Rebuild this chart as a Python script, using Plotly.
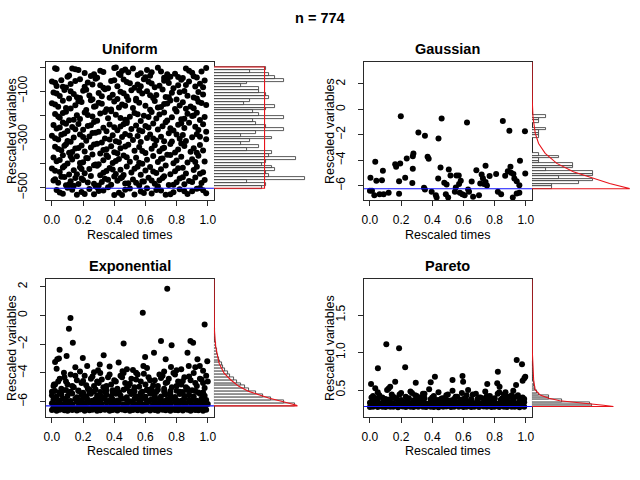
import plotly.graph_objects as go

W, H = 640, 480
FONT = "Liberation Sans, Arial, Helvetica, sans-serif"

TITLE = "n = 774"
PANEL_TITLES = ["Uniform", "Gaussian", "Exponential", "Pareto"]
X_LABEL = "Rescaled times"
Y_LABEL = "Rescaled variables"
X_TICKS = [0.0, 0.2, 0.4, 0.6, 0.8, 1.0]

# ---------------- Uniform ----------------
U_T = [
    0.02,0.10,0.13,0.15,0.17,0.25,0.27,0.29,0.33,0.40, 0.41,0.43,0.45,0.47,0.52,0.55,0.57,0.60,0.63,0.64,
    0.68,0.70,0.74,0.76,0.81,0.84,0.88,0.90,0.93,0.99,
    0.00,0.03,0.06,0.09,0.12,0.18,0.21,0.23,0.28,0.31, 0.36,0.38,0.42,0.46,0.50,0.53,0.55,0.59,0.62,0.66,
    0.69,0.72,0.75,0.78,0.83,0.86,0.88,0.92,0.95,0.98,
    0.01,0.05,0.08,0.11,0.14,0.16,0.20,0.24,0.26,0.30, 0.34,0.37,0.39,0.44,0.48,0.51,0.54,0.58,0.61,0.65,
    0.67,0.71,0.73,0.77,0.80,0.85,0.87,0.91,0.94,0.97,
    0.00,0.04,0.07,0.12,0.15,0.19,0.22,0.25,0.28,0.32, 0.35,0.40,0.43,0.45,0.49,0.52,0.56,0.60,0.63,0.66,
    0.70,0.72,0.76,0.79,0.82,0.84,0.89,0.91,0.96,0.99,
    0.02,0.05,0.09,0.11,0.16,0.18,0.21,0.26,0.29,0.31, 0.36,0.38,0.41,0.47,0.50,0.53,0.57,0.59,0.64,0.67,
    0.69,0.74,0.77,0.80,0.83,0.87,0.90,0.93,0.95,0.98,
    0.01,0.03,0.07,0.10,0.13,0.17,0.20,0.23,0.27,0.30, 0.33,0.37,0.42,0.44,0.48,0.51,0.54,0.58,0.62,0.65,
    0.68,0.71,0.73,0.78,0.81,0.85,0.88,0.92,0.94,0.97,
    0.00,0.04,0.08,0.12,0.14,0.18,0.22,0.24,0.28,0.32, 0.34,0.39,0.41,0.45,0.47,0.52,0.55,0.57,0.61,0.63,
    0.67,0.70,0.75,0.77,0.82,0.84,0.86,0.90,0.93,0.99,
    0.02,0.06,0.09,0.11,0.15,0.19,0.21,0.25,0.29,0.31, 0.35,0.38,0.40,0.44,0.49,0.53,0.56,0.60,0.64,0.66,
    0.69,0.72,0.76,0.79,0.81,0.85,0.89,0.91,0.95,0.97,
    0.01,0.03,0.07,0.10,0.13,0.16,0.20,0.23,0.26,0.30, 0.33,0.36,0.39,0.43,0.46,0.50,0.54,0.58,0.61,0.65,
    0.68,0.71,0.74,0.78,0.80,0.83,0.87,0.90,0.94,0.98,
    0.00,0.05,0.08,0.11,0.14,0.18,0.21,0.24,0.27,0.31, 0.35,0.37,0.41,0.44,0.48,0.51,0.53,0.57,0.60,0.63,
    0.67,0.70,0.73,0.76,0.79,0.84,0.86,0.91,0.93,0.97,
    0.02,0.04,0.06,0.09,0.12,0.15,0.17,0.20,0.25,0.28, 0.32,0.34,0.38,0.42,0.45,0.49,0.52,0.56,0.59,0.62,
    0.66,0.69,0.72,0.75,0.80,0.82,0.85,0.88,0.92,0.96,
    0.03,0.07,0.10,0.16,0.19,0.24,0.27,0.30,0.36,0.40, 0.43,0.47,0.53,0.57,0.61,0.64,0.70,0.73,0.78,0.82,
    0.87,0.90,0.95,0.99,
] + [
    0.03,0.11,0.21,0.31,0.44,0.49,0.61,0.72,0.79,0.86,0.91,0.96,
    0.02,0.07,0.15,0.26,0.33,0.40,0.48,0.57,0.64,0.74,0.81,0.97,
    0.03,0.12,0.18,0.22,0.32,0.42,0.46,0.56,0.63,0.75,0.82,0.93,
    0.02,0.09,0.17,0.27,0.30,0.38,0.47,0.54,0.68,0.74,0.86,0.94,
    0.04,0.07,0.14,0.23,0.34,0.44,0.48,0.55,0.62,0.72,0.85,0.91,
    0.05,0.09,0.15,0.25,0.35,0.40,0.46,0.56,0.60,0.76,0.83,0.99,
    0.02,0.06,0.10,0.20,0.26,0.37,0.43,0.50,0.65,0.72,0.80,0.95,
    0.04,0.08,0.13,0.17,0.27,0.33,0.42,0.47,0.58,0.71,0.83,0.93,
    0.05,0.12,0.18,0.22,0.28,0.35,0.41,0.48,0.56,0.70,0.76,0.92,
    0.02,0.07,0.16,0.19,0.29,0.33,0.39,0.46,0.55,0.65,0.81,0.95,
    0.01,0.08,0.11,0.19,0.23,0.30,0.36,0.40,0.47,0.58,0.71,0.78,
    0.14,0.27,0.44,0.54,0.64,0.68,0.84,0.90,0.98,0.29,
    0.05,0.13,0.21,0.33,0.45,0.50,0.59,0.67,0.76,0.85,0.93,0.97,
]
U_V = [
    -5,-40,-6,-9,-12,-37,-30,-44,-20,-4, -2,-28,-16,-10,-6,-33,-26,-42,-36,-21,
    -3,-18,-30,-40,-41,-45,-15,-24,-43,-4,
    -60,-78,-55,-85,-70,-50,-82,-64,-48,-75, -88,-58,-80,-52,-67,-86,-72,-50,-61,-84,
    -77,-57,-66,-88,-53,-74,-60,-81,-69,-56,
    -105,-120,-95,-130,-112,-125,-98,-118,-133,-108, -92,-127,-115,-102,-122,-96,-131,-110,-100,-128,
    -116,-93,-124,-106,-134,-99,-119,-126,-103,-114,
    -150,-165,-140,-172,-158,-145,-178,-138,-162,-152, -175,-143,-168,-155,-137,-170,-148,-160,-177,-141,
    -166,-153,-139,-174,-159,-146,-163,-171,-149,-157,
    -195,-210,-185,-220,-200,-215,-188,-205,-223,-192, -212,-183,-198,-218,-206,-190,-224,-202,-186,-213,
    -197,-221,-208,-184,-216,-194,-203,-189,-219,-207,
    -240,-255,-230,-265,-248,-236,-260,-244,-228,-268, -252,-238,-262,-246,-232,-257,-242,-266,-250,-234,
    -259,-245,-229,-263,-239,-253,-231,-247,-261,-237,
    -285,-300,-275,-310,-292,-280,-305,-288,-272,-313, -296,-283,-308,-290,-277,-302,-286,-311,-294,-279,
    -304,-289,-274,-309,-297,-282,-306,-291,-278,-299,
    -330,-345,-320,-355,-338,-325,-350,-333,-318,-358, -341,-328,-353,-336,-322,-347,-331,-356,-339,-324,
    -349,-334,-319,-354,-342,-327,-351,-337,-323,-346,
    -375,-390,-365,-400,-383,-370,-395,-378,-362,-403, -386,-373,-398,-381,-367,-392,-376,-401,-384,-369,
    -394,-379,-363,-399,-387,-372,-396,-382,-368,-391,
    -420,-435,-410,-445,-428,-415,-440,-423,-407,-448, -431,-418,-443,-426,-412,-437,-421,-446,-429,-414,
    -439,-424,-408,-444,-432,-417,-441,-427,-413,-436,
    -465,-480,-455,-490,-473,-460,-485,-468,-452,-493, -476,-463,-488,-471,-457,-482,-466,-491,-474,-459,
    -484,-469,-453,-489,-477,-462,-486,-472,-458,-481,
    -510,-525,-500,-529,-518,-505,-527,-514,-498,-530, -521,-508,-528,-516,-502,-524,-512,-529,-519,-506,
    -526,-515,-501,-523,
] + [
    -8,-35,-25,-15,-33,-22,-12,-44,-28,-6,-38,-18,
    -65,-82,-58,-72,-86,-55,-62,-79,-68,-52,-75,-84,
    -110,-100,-128,-94,-121,-132,-109,-97,-117,-125,-104,-130,
    -155,-170,-142,-165,-148,-176,-160,-139,-168,-151,-173,-144,
    -205,-190,-218,-199,-186,-211,-224,-196,-207,-188,-214,-201,
    -250,-235,-258,-241,-266,-249,-237,-262,-244,-254,-233,-268,
    -295,-281,-306,-290,-273,-300,-312,-284,-296,-307,-279,-289,
    -340,-326,-352,-335,-321,-344,-357,-329,-348,-338,-317,-355,
    -385,-370,-398,-377,-404,-366,-389,-374,-397,-380,-364,-393,
    -430,-416,-444,-422,-409,-438,-425,-447,-413,-433,-419,-442,
    -470,-456,-487,-462,-478,-491,-467,-454,-483,-474,-460,-488,
    -492,-484,-461,-479,-470,-494,-457,-476,-468,-498,
    -520,-508,-526,-512,-530,-503,-522,-510,-527,-515,-504,-511,
]
U_THRESH = -502
U_BIN_START, U_BIN_WIDTH = -504, 12
U_HIST = [16,17,11,30,18,17,20,19,16,17,27,18,19,11,15,9,12,19,9,14,23,17,14,13,23,15,13,
          17,20,10,12,18,17,15,15,9,11,23,20,18,12,17]
U_DENS_V = [-502, -502, 0, 0]
U_DENS_D = [0, 16.7, 16.7, 0]

# ---------------- Gaussian ----------------
G_T = [
    0.198,0.460,0.623,0.853,0.895,0.995,0.311,0.353,0.440,0.279,
    0.275,0.236,0.370,0.377,0.034,0.162,0.168,0.194,0.963,0.902,
    0.742,0.453,0.275,0.083,0.003,0.041,0.077,0.187,0.226,0.272,
    0.438,0.477,0.492,0.506,0.517,0.555,0.570,0.583,0.572,0.551,
    0.653,0.683,0.717,0.725,0.708,0.732,0.751,0.742,0.768,0.810,
    0.868,0.885,0.906,0.921,0.927,0.942,0.959,0.997,
    0.000,0.013,0.028,0.062,0.088,0.120,0.187,0.347,0.353,0.396,
    0.423,0.428,0.487,0.502,0.545,0.577,0.593,0.608,0.630,0.636,
    0.662,0.700,0.821,0.842,0.917,0.942,0.959,
]
G_V = [
    -0.53,-0.71,-1.03,-0.92,-1.68,-1.71,-1.81,-2.08,-2.29,-3.47,
    -3.68,-3.86,-3.73,-3.89,-4.12,-4.31,-4.52,-4.25,-4.04,-4.52,
    -4.44,-4.57,-4.68,-4.83,-5.38,-5.62,-5.57,-5.65,-5.38,-5.80,
    -5.44,-5.78,-5.91,-4.73,-5.20,-5.20,-5.20,-5.62,-5.88,-6.14,
    -5.67,-4.78,-5.12,-5.41,-5.83,-5.88,-5.99,-5.72,-5.25,-5.09,
    -5.22,-4.86,-4.99,-5.09,-5.44,-5.65,-5.96,-5.04,
    -6.41,-6.41,-6.75,-6.67,-6.67,-6.56,-6.64,-6.17,-6.30,-6.49,
    -6.75,-6.93,-6.67,-6.93,-6.49,-6.56,-6.67,-6.75,-6.30,-6.49,
    -6.88,-6.75,-6.49,-6.67,-6.93,-6.62,-6.56,
]
G_THRESH = -6.25
G_BIN_START, G_BIN_WIDTH = -6.25, 0.2
G_HIST = [3,3,7,9,4,9,9,2,6,6,1,1,4,1,0,0,0,0,0,0,1,1,1,2,0,0,1,1,2]
G_CURVE_V = [-6.25,-6.25,-6.22,-5.83,-5.43,-4.91,-4.25,-3.46,-2.68,-1.89,-0.58,0.73,3.73]
G_CURVE_D = [0,14.4,14.4,11.5,9.07,6.13,3.68,1.96,0.98,0.49,0.15,0.04,0.0]

# ---------------- Exponential ----------------
E_T = [
    # sparse upper points
    0.740,0.583,0.119,0.109,0.980,0.134,0.460,0.700,0.768,0.889,
    0.906,0.049,0.020,0.034,0.045,0.094,0.198,0.332,0.428,0.598,
    0.655,0.730,0.870,0.934,0.997,0.226,0.296,0.307,0.481,0.453,
    0.540,0.587,0.764,0.878,0.949,0.800,0.077,0.013,
    # mid band
    0.01,0.04,0.06,0.08,0.10,0.12,0.14,0.16,0.19,0.21, 0.23,0.25,0.27,0.29,0.31,0.33,0.36,0.38,0.40,0.42,
    0.44,0.47,0.49,0.51,0.53,0.55,0.57,0.60,0.62,0.64, 0.66,0.68,0.71,0.73,0.75,0.77,0.79,0.81,0.83,0.85,
    0.87,0.89,0.91,0.93,0.95,0.97,0.99,0.18,0.46,0.69,
    0.00,0.02,0.05,0.07,0.09,0.11,0.13,0.15,0.17,0.20, 0.22,0.24,0.26,0.28,0.30,0.32,0.34,0.35,0.37,0.39,
    0.41,0.43,0.45,0.48,0.50,0.52,0.54,0.56,0.58,0.59, 0.61,0.63,0.65,0.67,0.70,0.72,0.74,0.76,0.78,0.80,
    0.82,0.84,0.86,0.88,0.90,0.92,0.94,0.96,0.98,1.00, 0.03,0.15,0.27,0.37,0.52,0.61,0.72,0.83,0.92,0.97,
    # dense mass
    0.00,0.03,0.05,0.08,0.10,0.13,0.16,0.18,0.21,0.24,0.26,0.29,0.31,0.34,0.37,0.39,0.42,0.45,0.47,0.50,
    0.52,0.55,0.58,0.60,0.63,0.66,0.68,0.71,0.73,0.76,0.79,0.81,0.84,0.87,0.89,0.92,0.94,0.97,0.99,
    0.01,0.04,0.06,0.09,0.12,0.14,0.17,0.19,0.22,0.25,0.27,0.30,0.33,0.35,0.38,0.40,0.43,0.46,0.48,0.51,
    0.54,0.56,0.59,0.61,0.64,0.67,0.69,0.72,0.75,0.77,0.80,0.82,0.85,0.88,0.90,0.93,0.96,0.98,
    0.00,0.02,0.05,0.08,0.11,0.13,0.16,0.19,0.21,0.24,0.27,0.30,0.32,0.35,0.38,0.41,0.43,0.46,0.49,0.52,
    0.54,0.57,0.60,0.62,0.65,0.68,0.70,0.73,0.76,0.79,0.81,0.84,0.86,0.89,0.92,0.95,0.97,1.00,
    0.01,0.04,0.07,0.09,0.12,0.15,0.18,0.20,0.23,0.26,0.28,0.31,0.34,0.37,0.39,0.42,0.45,0.48,0.50,0.53,
    0.56,0.58,0.61,0.64,0.66,0.69,0.72,0.74,0.77,0.80,0.83,0.85,0.88,0.91,0.93,0.96,0.99,
    0.00,0.03,0.06,0.10,0.13,0.16,0.19,0.22,0.25,0.29,0.32,0.35,0.38,0.41,0.44,0.48,0.51,0.54,0.57,0.60,
    0.63,0.66,0.70,0.73,0.76,0.79,0.82,0.85,0.88,0.91,0.95,0.98,
    0.02,0.05,0.09,0.12,0.17,0.20,0.24,0.27,0.31,0.35,0.39,0.42,0.46,0.50,0.53,0.57,0.61,0.65,0.68,0.72,
    0.76,0.80,0.84,0.87,0.92,0.97,
]
E_V = [
    1.86,0.19,-0.18,-0.92,-0.64,-1.90,-1.96,-1.78,-2.08,-1.78,
    -1.90,-2.38,-3.24,-3.05,-3.00,-2.82,-2.96,-2.77,-3.28,-2.89,
    -2.59,-3.05,-2.59,-3.05,-3.19,-3.51,-3.82,-3.42,-3.75,-3.88,
    -3.98,-3.51,-3.58,-3.51,-3.51,-3.82,-3.98,-4.81,
    -4.9,-4.6,-5.1,-4.3,-4.8,-4.1,-5.0,-4.5,-4.7,-4.2, -5.1,-4.4,-4.9,-4.6,-4.0,-5.0,-4.3,-4.8,-4.5,-5.1,
    -4.2,-4.7,-4.9,-4.4,-5.0,-4.1,-4.6,-4.8,-4.3,-5.1, -4.5,-4.9,-4.2,-4.7,-4.4,-5.0,-4.1,-4.6,-4.8,-4.3,
    -5.1,-4.5,-4.0,-4.9,-4.4,-4.7,-4.2,-3.9,-4.0,-4.1,
    -5.3,-4.8,-4.4,-5.2,-4.6,-5.35,-4.9,-4.2,-5.25,-4.55, -4.85,-5.3,-4.25,-5.15,-4.7,-4.45,-5.3,-4.9,-4.1,-5.2,
    -4.6,-5.35,-4.3,-5.05,-4.75,-5.25,-4.45,-4.95,-5.3,-4.05, -5.15,-4.5,-4.85,-5.3,-4.35,-5.1,-4.65,-5.25,-4.0,-4.9,
    -5.3,-4.55,-5.0,-4.25,-5.2,-4.7,-5.35,-4.45,-5.05,-4.6, -3.7,-3.6,-3.95,-3.55,-3.8,-3.65,-3.9,-3.75,-3.6,-3.85,
    -6.58,-6.62,-6.55,-6.60,-6.63,-6.57,-6.61,-6.54,-6.62,-6.59,-6.56,-6.63,-6.60,-6.55,-6.62,-6.58,-6.61,-6.54,-6.60,-6.63,
    -6.57,-6.59,-6.62,-6.55,-6.61,-6.58,-6.63,-6.56,-6.60,-6.62,-6.57,-6.59,-6.61,-6.55,-6.62,-6.58,-6.60,-6.63,-6.56,
    -6.38,-6.42,-6.33,-6.40,-6.36,-6.44,-6.35,-6.41,-6.37,-6.43,-6.34,-6.39,-6.42,-6.36,-6.40,-6.33,-6.44,-6.38,-6.35,-6.41,
    -6.37,-6.43,-6.34,-6.39,-6.36,-6.42,-6.40,-6.33,-6.38,-6.44,-6.35,-6.41,-6.37,-6.43,-6.36,-6.39,-6.34,-6.42,
    -6.10,-6.18,-6.05,-6.14,-6.08,-6.20,-6.02,-6.16,-6.11,-6.06,-6.19,-6.09,-6.15,-6.03,-6.17,-6.12,-6.07,-6.20,-6.04,-6.13,
    -6.18,-6.08,-6.15,-6.01,-6.19,-6.10,-6.06,-6.16,-6.12,-6.03,-6.18,-6.09,-6.14,-6.05,-6.20,-6.11,-6.07,-6.16,
    -5.85,-5.92,-5.78,-5.88,-5.95,-5.80,-5.90,-5.76,-5.87,-5.93,-5.82,-5.89,-5.77,-5.94,-5.84,-5.91,-5.79,-5.86,-5.96,-5.81,
    -5.88,-5.75,-5.92,-5.83,-5.90,-5.78,-5.95,-5.86,-5.80,-5.89,-5.93,-5.77,-5.87,-5.82,-5.94,-5.79,-5.88,
    -5.55,-5.65,-5.48,-5.60,-5.42,-5.68,-5.52,-5.62,-5.45,-5.58,-5.66,-5.50,-5.63,-5.44,-5.57,-5.69,-5.47,-5.61,-5.53,-5.66,
    -5.43,-5.59,-5.64,-5.49,-5.56,-5.67,-5.46,-5.60,-5.52,-5.63,-5.45,-5.58,
    -5.25,-5.35,-5.18,-5.30,-5.22,-5.38,-5.15,-5.28,-5.33,-5.20,-5.36,-5.24,-5.17,-5.31,-5.27,-5.39,-5.21,-5.34,-5.16,-5.29,
    -5.37,-5.23,-5.32,-5.19,-5.26,-5.35,
]
E_THRESH = -6.29
E_BIN_START, E_BIN_WIDTH = -6.29, 0.2
E_HIST = [82,70,57,49,42,35,31,27,23,20,16,14,11,9,8,6,5,4,3,3,2,2,1.5,1,1,0.7,0.5]
E_CURVE_V = [-6.29,-6.29,-6.25,-6.04,-5.74,-5.28,-4.93,-4.47,-4.0,-3.3,-2.15,-1.0,2.51]
E_CURVE_D = [0,84,83,71.7,55,35,25,16.7,10,5,1.7,0.4,0]

# ---------------- Pareto ----------------
P_T = [
    0.105,0.187,0.051,0.226,0.942,0.976,0.821,0.007,0.034,0.162,
    0.294,0.390,0.417,0.530,0.594,0.598,0.753,0.817,0.832,0.991,
    0.997,0.980,0.938,0.130,
    0.02,0.05,0.08,0.11,0.14,0.17,0.20,0.23,0.26,0.29, 0.32,0.35,0.38,0.41,0.44,0.47,0.50,0.53,0.56,0.59,
    0.62,0.65,0.68,0.71,0.74,0.77,0.80,0.83,0.86,0.89, 0.92,0.95,0.98,0.12,0.63,
    0.01,0.06,0.10,0.15,0.19,0.25,0.30,0.34,0.40,0.45,0.49,0.55,0.60,0.66,0.70,0.75,0.79,0.82,0.85,0.91,
    0.94,0.99,0.27,0.52,0.87,
    0.00,0.02,0.05,0.08,0.10,0.13,0.15,0.18,0.21,0.23,0.26,0.28,0.31,0.34,0.36,0.39,0.41,0.44,0.47,0.49,
    0.52,0.54,0.57,0.60,0.62,0.65,0.67,0.70,0.73,0.75,0.78,0.80,0.83,0.86,0.88,0.91,0.93,0.96,0.99,
    0.01,0.04,0.06,0.09,0.12,0.14,0.17,0.19,0.22,0.25,0.27,0.30,0.32,0.35,0.38,0.40,0.43,0.45,0.48,0.51,
    0.53,0.56,0.58,0.61,0.64,0.66,0.69,0.71,0.74,0.77,0.79,0.82,0.84,0.87,0.90,0.92,0.95,0.98,
    0.00,0.03,0.06,0.09,0.12,0.15,0.18,0.21,0.24,0.27,0.30,0.33,0.36,0.39,0.42,0.45,0.48,0.51,0.54,0.57,
    0.60,0.63,0.66,0.69,0.72,0.75,0.78,0.81,0.84,0.87,0.90,0.93,0.96,0.99,
    0.02,0.05,0.09,0.13,0.16,0.20,0.24,0.28,0.31,0.35,0.39,0.43,0.46,0.50,0.54,0.58,0.61,0.65,0.69,0.73,
    0.76,0.80,0.84,0.88,0.92,0.97,
]
P_V = [
    1.109,1.056,0.789,0.802,0.900,0.842,0.744,0.580,0.522,0.611,
    0.598,0.602,0.678,0.633,0.687,0.611,0.580,0.589,0.544,0.656,
    0.678,0.624,0.567,0.544,
    0.42,0.47,0.40,0.50,0.44,0.39,0.46,0.41,0.48,0.43, 0.40,0.45,0.51,0.42,0.47,0.39,0.44,0.49,0.41,0.46,
    0.43,0.38,0.45,0.40,0.48,0.42,0.39,0.47,0.44,0.41, 0.49,0.43,0.40,0.52,0.50,
    0.40,0.43,0.38,0.41,0.44,0.39,0.42,0.45,0.40,0.37,0.43,0.41,0.38,0.44,0.40,0.42,0.37,0.45,0.39,0.43,
    0.41,0.38,0.46,0.36,0.47,
    0.272,0.276,0.274,0.278,0.273,0.277,0.275,0.271,0.279,0.274,0.276,0.272,0.278,0.275,0.273,0.277,0.274,0.271,0.276,0.279,
    0.273,0.275,0.278,0.272,0.276,0.274,0.277,0.273,0.279,0.275,0.272,0.276,0.274,0.278,0.273,0.277,0.275,0.271,0.276,
    0.300,0.310,0.290,0.305,0.295,0.315,0.300,0.290,0.310,0.305,0.295,0.300,0.315,0.290,0.305,0.310,0.300,0.295,0.315,0.290,
    0.305,0.300,0.310,0.295,0.290,0.315,0.300,0.305,0.310,0.295,0.300,0.290,0.315,0.305,0.300,0.310,0.295,0.300,
    0.330,0.345,0.325,0.340,0.350,0.320,0.335,0.345,0.330,0.325,0.350,0.340,0.320,0.335,0.345,0.330,0.340,0.325,0.350,0.335,
    0.320,0.345,0.330,0.340,0.325,0.350,0.335,0.320,0.345,0.330,0.340,0.325,0.350,0.335,
    0.370,0.385,0.360,0.375,0.390,0.365,0.380,0.360,0.370,0.390,0.375,0.365,0.385,0.360,0.380,0.370,0.390,0.365,0.375,0.385,
    0.360,0.380,0.370,0.390,0.365,0.380,
]
P_THRESH = 0.28
P_BIN_START, P_BIN_WIDTH = 0.28, 0.03
P_HIST = [60,58,30,17,17,7,5,3.3,3,2,2,1.5,1,1,0.5,0.5,0.5,0.5,0.3,0.3]
P_CURVE_V = [0.28,0.28,0.296,0.313,0.331,0.357,0.389,0.433,0.5,0.633,1.0,1.976]
P_CURVE_D = [0,82,72,58,42,28,17,8.3,3.3,1.7,0.4,0]

# ---------------- layout geometry (pixels) ----------------
BOX_X = [(44, 213.3), (364, 533.3), (44, 213.3), (364, 533.3)]
HIST_X = [(213.3, 320), (533.3, 640), (213.3, 320), (533.3, 640)]
BOX_Y = [(62, 200), (62, 200), (279.3, 416.7), (279.3, 416.7)]
Y_RANGES = [[-551, 21], [-7.13, 3.73], [-7.04, 2.51], [0.144, 1.976]]
HIST_RANGES = [[0, 35], [0, 15.7], [0, 106.7], [0, 106.7]]
Y_TICKVALS = [[-500, -400, -300, -200, -100, 0], [-6, -4, -2, 0, 2], [-6, -4, -2, 0, 2], [0.5, 1.0, 1.5]]
Y_TICKTEXT = [["\u2212500", "", "\u2212300", "", "\u2212100", ""],
              ["\u22126", "\u22124", "\u22122", "0", "2"],
              ["\u22126", "\u22124", "\u22122", "0", "2"],
              ["0.5", "1.0", "1.5"]]

SERIES = [
    (U_T, U_V, U_THRESH, U_BIN_START, U_BIN_WIDTH, U_HIST, U_DENS_V, U_DENS_D),
    (G_T, G_V, G_THRESH, G_BIN_START, G_BIN_WIDTH, G_HIST, G_CURVE_V, G_CURVE_D),
    (E_T, E_V, E_THRESH, E_BIN_START, E_BIN_WIDTH, E_HIST, E_CURVE_V, E_CURVE_D),
    (P_T, P_V, P_THRESH, P_BIN_START, P_BIN_WIDTH, P_HIST, P_CURVE_V, P_CURVE_D),
]

fig = go.Figure()
layout = {}
annotations = []
LINE_COL = "#2a2a2a"
TICKFONT = dict(family=FONT, size=12, color="black")

for i, (t, v, thr, b0, bw, hist, cv, cd) in enumerate(SERIES):
    sx = 2 * i + 1
    hx = 2 * i + 2
    yid = 2 * i + 1
    sxn = "x" if sx == 1 else f"x{sx}"
    hxn = f"x{hx}"
    yn = "y" if yid == 1 else f"y{yid}"
    x0, x1 = BOX_X[i]
    h0, h1 = HIST_X[i]
    yt, yb = BOX_Y[i]
    ydom = [1 - yb / H, 1 - yt / H]

    centers = [b0 + bw * (k + 0.5) for k in range(len(hist))]
    fig.add_trace(go.Bar(x=hist, y=centers, orientation="h", width=bw, base=0,
                         marker=dict(color="white", line=dict(color="#303030", width=0.8)),
                         xaxis=hxn, yaxis=yn, showlegend=False, hoverinfo="skip"))
    fig.add_trace(go.Scatter(x=cd, y=cv, mode="lines", line=dict(color="#e8141b", width=1.1),
                             xaxis=hxn, yaxis=yn, showlegend=False, hoverinfo="skip"))
    fig.add_trace(go.Scatter(x=t, y=v, mode="markers",
                             marker=dict(color="black", size=6, line=dict(width=0)),
                             xaxis=sxn, yaxis=yn, showlegend=False))
    fig.add_trace(go.Scatter(x=[-0.04, 1.04], y=[thr, thr], mode="lines",
                             line=dict(color="#1010ff", width=1.1),
                             xaxis=sxn, yaxis=yn, showlegend=False, hoverinfo="skip"))

    layout["xaxis" if sx == 1 else f"xaxis{sx}"] = dict(
        domain=[x0 / W, x1 / W], range=[-0.04, 1.04], anchor=yn,
        tickvals=X_TICKS, tickformat=".1f", ticks="outside", ticklen=5, tickwidth=1,
        tickcolor=LINE_COL, showline=True, mirror=True, linecolor=LINE_COL, linewidth=1,
        showgrid=False, zeroline=False, tickfont=TICKFONT, ticklabelstandoff=4)
    layout[f"xaxis{hx}"] = dict(domain=[h0 / W, h1 / W], range=HIST_RANGES[i], anchor=yn,
                                visible=False, showgrid=False, zeroline=False)
    layout["yaxis" if yid == 1 else f"yaxis{yid}"] = dict(
        domain=ydom, range=Y_RANGES[i], anchor=sxn,
        tickvals=Y_TICKVALS[i], ticktext=Y_TICKTEXT[i], tickangle=-90,
        ticks="outside", ticklen=5, tickwidth=1, tickcolor=LINE_COL,
        showline=True, mirror=True, linecolor=LINE_COL, linewidth=1,
        showgrid=False, zeroline=False, tickfont=TICKFONT, ticklabelstandoff=8)

    cx = (x0 + x1) / 2
    annotations.append(dict(text=f"<b>{PANEL_TITLES[i]}</b>", x=cx / W, y=1 - (yt - 13.5) / H,
                            xref="paper", yref="paper", showarrow=False, xanchor="center",
                            yanchor="middle", font=dict(family=FONT, size=14.5, color="black")))
    annotations.append(dict(text=X_LABEL, x=cx / W, y=1 - (yb + 34.5) / H,
                            xref="paper", yref="paper", showarrow=False, xanchor="center",
                            yanchor="middle", borderpad=0,
                            font=dict(family=FONT, size=12.5, color="black")))
    annotations.append(dict(text=Y_LABEL, x=(x0 - 34) / W, y=1 - ((yt + yb) / 2) / H,
                            xref="paper", yref="paper", showarrow=False, xanchor="center",
                            yanchor="middle", textangle=-90, borderpad=0,
                            font=dict(family=FONT, size=12.5, color="black")))

annotations.append(dict(text=f"<b>{TITLE}</b>", x=0.5, y=1 - 18 / H, xref="paper", yref="paper",
                        showarrow=False, xanchor="center", yanchor="middle",
                        font=dict(family=FONT, size=14.5, color="black")))

fig.update_layout(width=W, height=H, margin=dict(l=0, r=0, t=0, b=0),
                  paper_bgcolor="white", plot_bgcolor="white",
                  font=dict(family=FONT), annotations=annotations, bargap=0, **layout)

fig.write_html("out.html")
